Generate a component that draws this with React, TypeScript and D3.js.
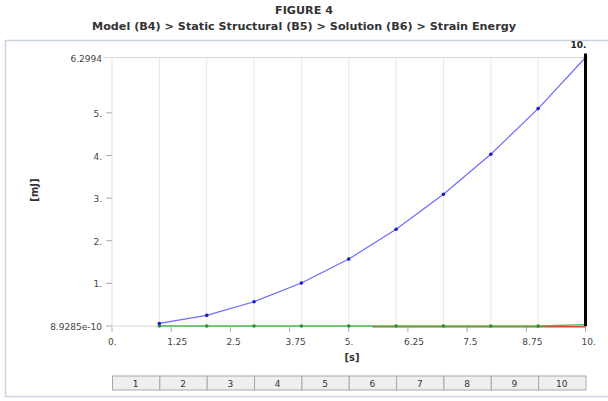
import React from "react";
import * as d3 from "d3";

// time steps and strain energy [mJ]
const steps = [1, 2, 3, 4, 5, 6, 7, 8, 9, 10];
const energy = [0.06, 0.25, 0.57, 1.01, 1.57, 2.27, 3.09, 4.03, 5.1, 6.2994];
const greenSeries = [0, 0, 0, 0, 0, 0, 0, 0, 0, 0.03];
const redTimes = [5.5, 10];
const redSeries = [-0.02, -0.02];

const xTicks = [0, 1.25, 2.5, 3.75, 5, 6.25, 7.5, 8.75, 10];
const xTickLabels = ["0.", "1.25", "2.5", "3.75", "5.", "6.25", "7.5", "8.75", "10."];
const yTicks = [0, 1, 2, 3, 4, 5, 6.2994];
const yTickLabels = ["8.9285e-10", "1.", "2.", "3.", "4.", "5.", "6.2994"];
const cellLabels = ["1", "2", "3", "4", "5", "6", "7", "8", "9", "10"];

const W = 608;
const H = 401;
const plot = { left: 112, right: 585.5, top: 57.5, bottom: 326 };
const font = "'DejaVu Sans', Verdana, sans-serif";

const App = () => {
  const x = d3.scaleLinear().domain([0, 10]).range([plot.left, plot.right]);
  const y = d3.scaleLinear().domain([0, 6.2994]).range([plot.bottom, plot.top]);

  const line = d3
    .line<[number, number]>()
    .x((d) => x(d[0]))
    .y((d) => y(d[1]));

  const bluePts: [number, number][] = steps.map((t, i) => [t, energy[i]]);
  const greenPts: [number, number][] = steps.map((t, i) => [t, greenSeries[i]]);
  const redPts: [number, number][] = redTimes.map((t, i) => [t, redSeries[i]]);

  const cellTop = 375.5;
  const cellH = 14;

  return (
    <div style={{ position: "absolute", left: 0, top: 0 }}>
      <svg width={W} height={H} style={{ display: "block", background: "#fff" }} fontFamily={font}>
        <text x={W / 2} y={14} textAnchor="middle" fontSize={11.2} fontWeight="bold" fill="#333">
          FIGURE 4
        </text>
        <text x={W / 2} y={29.5} textAnchor="middle" fontSize={11.2} fontWeight="bold" fill="#333">
          Model (B4) &gt; Static Structural (B5) &gt; Solution (B6) &gt; Strain Energy
        </text>

        {/* panel frame */}
        <rect x={5.5} y={40.5} width={W + 10} height={356} fill="none" stroke="#c9d3df" strokeWidth={1.5} />

        {/* vertical grid at each step */}
        {steps.slice(0, 9).map((t) => (
          <line key={t} x1={x(t)} x2={x(t)} y1={plot.top} y2={plot.bottom} stroke="#e8e8e8" />
        ))}
        {/* axes frame lines */}
        <line x1={x(0)} x2={x(0)} y1={plot.top} y2={plot.bottom} stroke="#e0e0e0" />
        <line x1={103} x2={plot.right} y1={y(6.2994)} y2={y(6.2994)} stroke="#d8d8d8" />
        <line x1={plot.left} x2={plot.right} y1={plot.bottom} y2={plot.bottom} stroke="#d8d8d8" />

        {/* y ticks */}
        {yTicks.map((v, i) => (
          <g key={v}>
            {i < yTicks.length - 1 && (
              <line x1={106} x2={plot.left} y1={y(v)} y2={y(v)} stroke="#aaa" />
            )}
            <text x={102} y={y(v) + 4} textAnchor="end" fontSize={9} fill="#444">
              {yTickLabels[i]}
            </text>
          </g>
        ))}

        {/* x ticks */}
        {xTicks.map((v, i) => (
          <g key={v}>
            <line x1={x(v)} x2={x(v)} y1={plot.bottom + 1} y2={plot.bottom + 6} stroke="#aaa" />
            <text x={x(v) - 4} y={345} textAnchor="start" fontSize={9} fill="#444">
              {xTickLabels[i]}
            </text>
          </g>
        ))}

        {/* axis titles */}
        <text x={352} y={361} textAnchor="middle" fontSize={10} fontWeight="bold" fill="#333">
          [s]
        </text>
        <text
          transform={`translate(38,190) rotate(-90)`}
          textAnchor="middle"
          fontSize={10}
          fontWeight="bold"
          fill="#333"
        >
          [mJ]
        </text>

        {/* series */}
        <path d={line(redPts) || ""} fill="none" stroke="#e0412a" strokeWidth={1.5} />
        <path d={line(greenPts) || ""} fill="none" stroke="#4cb84c" strokeWidth={1.3} />
        {greenPts.map((d) => (
          <circle key={d[0]} cx={x(d[0])} cy={y(d[1])} r={1.8} fill="#2f8f2f" />
        ))}
        <path d={line(bluePts) || ""} fill="none" stroke="#6b6bff" strokeWidth={1.2} />
        {bluePts.map((d) => (
          <circle key={d[0]} cx={x(d[0])} cy={y(d[1])} r={1.8} fill="#1a1acc" />
        ))}

        {/* current step marker */}
        <line x1={x(10)} x2={x(10)} y1={plot.top - 4} y2={plot.bottom} stroke="#000" strokeWidth={3} />
        <text x={x(10) + 1} y={48} textAnchor="end" fontSize={9} fontWeight="bold" fill="#222">
          10.
        </text>

        {/* step cells */}
        {cellLabels.map((c, i) => (
          <g key={c}>
            <rect
              x={x(i) + 0.5}
              y={cellTop + 0.5}
              width={x(i + 1) - x(i)}
              height={cellH}
              fill="#efefef"
              stroke="#a8a8a8"
            />
            <text x={(x(i) + x(i + 1)) / 2} y={cellTop + 11} textAnchor="middle" fontSize={9} fill="#333">
              {c}
            </text>
          </g>
        ))}
      </svg>
    </div>
  );
};

export default App;
